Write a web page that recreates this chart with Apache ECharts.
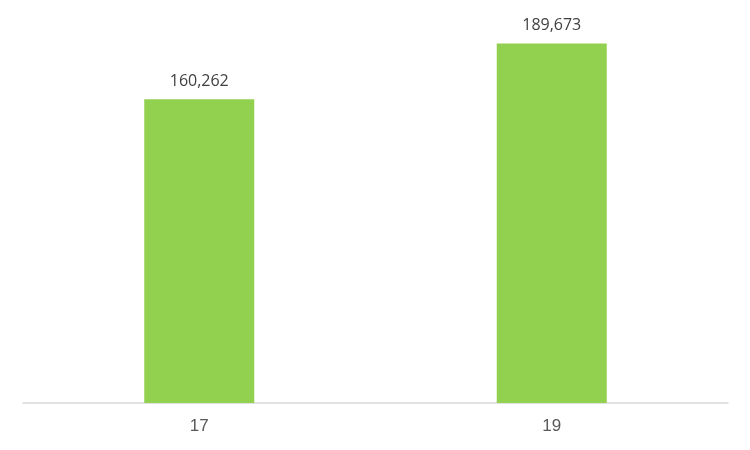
<!DOCTYPE html>
<html>
<head>
<meta charset="utf-8">
<script src="https://cdn.jsdelivr.net/npm/echarts@6/dist/echarts.min.js"></script>
<style>
  html, body { margin: 0; padding: 0; background: #fff; }
  #chart { width: 750px; height: 450px; }
</style>
</head>
<body>
<div id="chart"></div>
<script>
// 数据
const categories = ['17', '19']
const values = [160262, 189673]

const chart = echarts.init(document.getElementById('chart'))
const option = {
  animation: false,
  grid: {
    left: 23,
    right: 22,
    top: 24,
    bottom: 47
  },
  xAxis: {
    type: 'category',
    data: categories,
    axisLine: { lineStyle: { color: '#d9d9d9', width: 1.5 } },
    axisTick: { show: false },
    axisLabel: {
      color: '#595959',
      fontSize: 17,
      fontFamily: 'Liberation Sans',
      margin: 15
    }
  },
  yAxis: {
    type: 'value',
    min: 0,
    max: 200000,
    show: false,
    splitLine: { show: false }
  },
  series: [{
    type: 'bar',
    data: values,
    barWidth: 110,
    itemStyle: { color: '#92d050' },
    label: {
      show: true,
      position: 'top',
      distance: 10,
      color: '#404040',
      fontSize: 16,
      fontFamily: 'Open Sans',
      formatter: p => p.value.toLocaleString('en-US')
    }
  }]
}
chart.setOption(option)
</script>
</body>
</html>
